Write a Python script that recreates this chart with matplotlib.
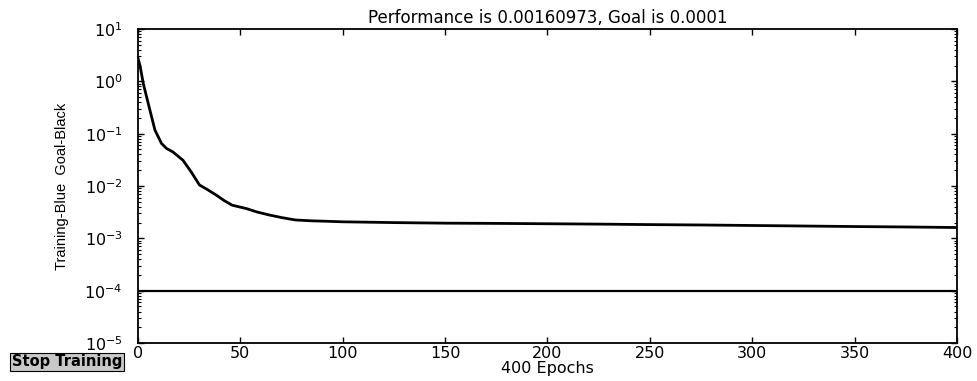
import matplotlib
matplotlib.use("Agg")
import matplotlib.pyplot as plt
from matplotlib.ticker import LogLocator, FixedLocator

# Data (training performance vs. epochs)
epochs = [0, 1, 2.6, 5, 8.3, 11.5, 14, 17, 22, 26, 30, 34, 38, 42, 46, 53,
          58, 64, 70, 77, 85, 92, 100, 125, 150, 175, 200, 225, 250, 275,
          300, 325, 350, 375, 400]
perf = [2.8, 2.0, 0.91, 0.38, 0.117, 0.065, 0.052, 0.045, 0.031, 0.0186,
        0.0105, 0.0085, 0.0068, 0.0053, 0.0043, 0.0037, 0.0032, 0.0028,
        0.0025, 0.00224, 0.00216, 0.00212, 0.00207, 0.00200, 0.00195,
        0.00193, 0.00190, 0.00187, 0.00183, 0.00180, 0.00176, 0.00172,
        0.00168, 0.00165, 0.00161]
goal = 0.0001
goal_x = [0, 400]
xticks = [0, 50, 100, 150, 200, 250, 300, 350, 400]
title_text = "Performance is 0.00160973, Goal is 0.0001"
xlabel_text = "400 Epochs"
ylabel_text = "Training-Blue  Goal-Black"
button_text = "Stop Training"

plt.rcParams['font.family'] = ['DejaVu Sans']
fig = plt.figure(figsize=(9.77, 3.81), dpi=100)
ax = fig.add_axes([0.1412, 0.0997, 0.9795 - 0.1412, 0.9239 - 0.0997])

ax.semilogy(epochs, perf, color='black', lw=2.0)
ax.semilogy(goal_x, [goal, goal], color='black', lw=1.6)

ax.set_xlim(0, 400)
ax.set_ylim(1e-5, 1e1)
ax.xaxis.set_major_locator(FixedLocator(xticks))
ax.yaxis.set_major_locator(LogLocator(base=10, numticks=10))
ax.yaxis.set_minor_locator(LogLocator(base=10, subs=range(2, 10), numticks=20))

ax.tick_params(which='both', direction='in', top=True, right=True,
               labelsize=11.5, colors='black')
ax.tick_params(which='major', length=4, width=1)
ax.tick_params(which='minor', length=2, width=0.8)
ax.tick_params(axis='y', which='major', pad=11)
ax.tick_params(axis='x', which='major', pad=2)
for s in ax.spines.values():
    s.set_linewidth(1.3)
    s.set_color('black')

ax.set_title(title_text, fontsize=12, pad=4)
ax.set_xlabel(xlabel_text, fontsize=11.5, labelpad=0)
ax.set_ylabel(ylabel_text, fontsize=10.5,
              family=['Liberation Sans Narrow', 'Liberation Sans', 'DejaVu Sans'],
              labelpad=11)

fig.text(0.012, 0.05, button_text, fontsize=10.5, fontweight='bold',
         ha='left', va='center',
         bbox=dict(boxstyle='square,pad=0.12', facecolor='#c8c8c8',
                   edgecolor='black', linewidth=0.8))

fig.savefig('out.png', dpi=100)
